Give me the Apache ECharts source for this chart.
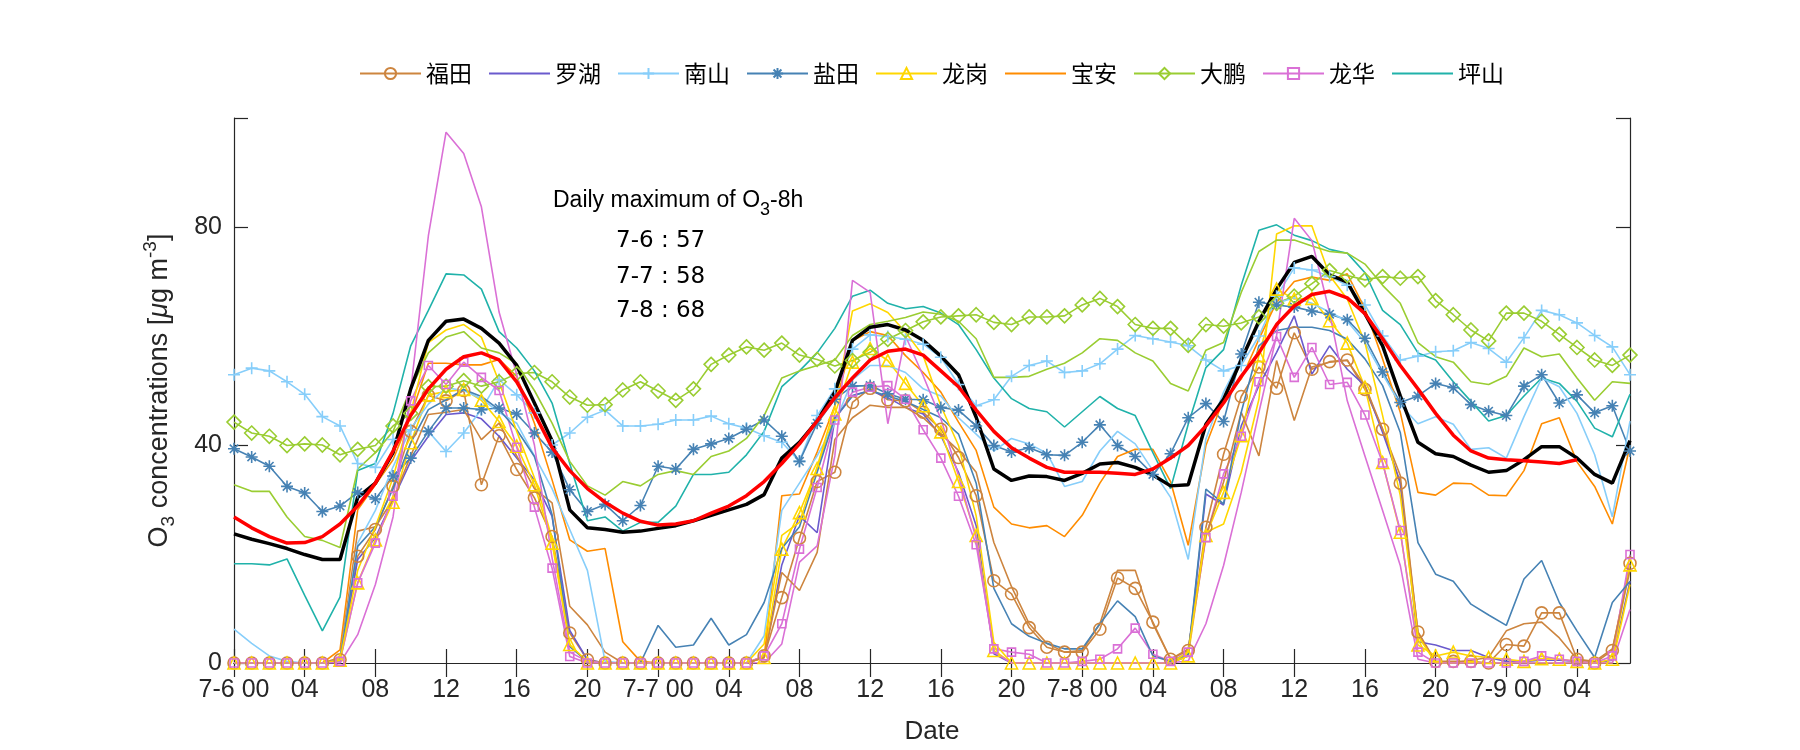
<!DOCTYPE html>
<html><head><meta charset="utf-8">
<script src="https://cdn.jsdelivr.net/npm/echarts@6/dist/echarts.min.js"></script>
<style>html,body{margin:0;padding:0;background:#fff}#c{width:1800px;height:750px}</style>
</head><body><div id="c"></div>
<script>
// x categories (hourly), 7-6 00 .. 7-9 07
const hourLabels = [
'7-6 00','01','02','03','04','05','06','07','08','09','10','11','12','13','14','15','16','17','18','19','20','21','22','23',
'7-7 00','01','02','03','04','05','06','07','08','09','10','11','12','13','14','15','16','17','18','19','20','21','22','23',
'7-8 00','01','02','03','04','05','06','07','08','09','10','11','12','13','14','15','16','17','18','19','20','21','22','23',
'7-9 00','01','02','03','04','05','06','07'];

const futian = [0,0,0,0,0,0,0.6,19.6,24.5,32.4,42.5,49.1,48.1,50,32.7,41.7,35.5,30.3,23.2,5.5,0.6,0,0,0,0,0,0,0,0,0,1.3,12,22.9,33.3,35,47.8,50.4,48.3,48.1,46,42.9,37.7,30.7,15.1,12.7,6.5,2.9,2,2,6.2,15.6,13.7,7.5,0.7,2.3,24.9,38.3,48.9,54.3,50.4,60.6,53.9,55.3,55.6,50.2,42.9,33,5.7,0.3,0.3,0.3,0,3.4,3.1,9.2,9.2,0.7,0,2.3,18.3];
const futian2 = [0,0,0,0,0,0,1,24.2,25,30,38,45.6,46,46.5,41,44,38,32,29.4,10.4,7,2,0,0,0,0,0,0,0,0,1,16.6,13.3,20.3,41,45,47.3,46.9,46.9,45,42,39,35,22.1,14,7.2,3.6,2,2.3,7.2,17,17,7.2,0.7,2.6,23.4,33.2,46,38,55.5,44.5,54.3,55.2,55.5,50.9,42.9,34.4,5.6,0,0,0.5,1,5.9,7.2,7.5,4.6,0.7,0.3,2.6,17];
const luohu = [0,0,0,0,0,0,0.5,19,23,30,37,41.6,45.6,45.9,44.8,41.6,37.6,33.6,26.9,6,0.6,0,0,0,0,0,0,0,0,0,1,18,27,23.9,44.8,49.1,50,48.7,46.9,45.7,41.7,35,25.2,1.7,0,0,0,0,0,0,0,0,0,0,1.3,31,29,43.5,50.9,57,63.7,53,58.2,53.9,50.9,42.3,33.1,3.9,3.3,2.3,2.3,1,0.3,0.3,0.5,0.5,0.3,0,0.5,15];
const nanshan = [52.9,54.1,53.6,51.6,49.3,45.2,43.5,36.6,35.9,41,42.8,42.5,38.8,42.2,46.5,52,49.2,45.9,40,42.2,45.1,46.4,43.5,43.5,43.8,44.6,44.6,45.3,43.9,43.1,41.7,40.5,37,45.4,50.3,57.6,60.2,59.9,59.4,58.5,56.1,51.1,47.2,48.3,52.6,54.6,55.4,53.3,53.6,54.9,57.6,60.1,59.5,58.9,58.2,55.6,53.6,54.6,60,67.3,72.5,72.1,70.9,69.3,65.7,60,55.6,56.3,57.1,57.3,58.8,57.7,55.2,59.7,64.7,63.9,62.4,60.1,58,52.9];
const nanshan2 = [6.2,3.6,1.3,0.3,0,0,0.5,22,28,36,43,47.5,50.5,50,48.5,46,44,38,32,24.5,17,0.3,0,0,0,0,0,0,0,0,5,28,33,38,44,52,54.6,54.6,53.3,50.3,49,45,42,38.9,41.2,40.2,38.5,32.4,33.3,38.9,42.5,40.2,35.3,30.4,19,41.1,49.7,56,62,66,67,66,64.4,62.7,58.8,53,47.4,43.9,45.2,43.8,39.2,39.5,37.6,45.2,52.3,50.7,45.8,38.2,26.8,44.4];
const yantian = [39.3,37.8,36.1,32.4,31.2,27.8,28.8,31.3,30.1,34.3,37.6,42.5,46.8,46.8,46.5,46.8,45.7,42.2,38.7,31.8,27.8,29.1,26.1,28.9,36.1,35.6,39.2,40.2,41.2,42.9,44.6,41.6,37,44,48.4,50.8,50.9,49.4,48.4,48.3,46.9,46.4,43.5,39.9,38.7,39.5,38.2,38.1,40.5,43.7,39.9,37.9,34.6,38.4,45,47.6,44.3,56.7,66.2,65.7,65.3,64.6,64,63,59.6,53.4,47.8,49,51.3,50.5,47.4,46.2,45.4,50.8,52.9,47.7,49.2,45.9,47.2,38.9];
const yantian2 = [0,0,0,0,0,0,0.5,21.4,25,32,40.4,46.5,48.3,50.2,48.9,46.5,42.8,37.9,27.2,3,0.3,0,0,0,6.9,2.9,3.3,8.2,3.3,5.2,11.1,21,25,35,45,49,50,49,48,46.5,45,42,33,13.7,7.2,4.9,3.6,2.6,2.6,7.2,11.4,8.5,1.3,0.3,1.6,31.9,29.2,46,58.2,61,61.6,61.6,61,59.4,55.8,50.9,42.3,22.1,16.3,15,10.8,8.8,6.9,15.4,18.8,11.1,5.9,1,11.1,15];
const longgang = [0,0,0,0,0,0,0.5,14.7,22.6,29.5,40.4,49.2,49.8,50.2,48.2,44.3,39.8,32.7,22,3.4,0,0,0,0,0,0,0,0,0,0,1,20.9,27.6,35.7,45.7,55.2,57.7,55.5,51.3,47.2,42.4,33.3,23.4,2.3,0,0,0,0,0,0,0,0,0,0,1.3,23.4,31.3,41.7,56.4,68.6,66.8,66.9,62.8,58.7,50.6,36.8,24,3.3,1.3,2,1.3,1,0.7,0.3,0.8,0.7,0.3,0,0.7,18];
const longgang2 = [0,0,0,0,0,0,0.5,17,25,34,45.9,58.8,61.1,62.1,59.8,51.6,42.5,34,22.9,3.3,0.3,0,0,0,0,0,0,0,0,0,3.5,23.4,25.8,36,47,64.6,65.9,64.3,60.7,56.4,47.2,39.9,27,3.8,0,0,0,0,0,0,0,0,0,0,2,24,25.5,35,48.4,78.7,80.2,80.2,71.1,66.8,58.8,45.4,30.7,5,0,0,0,0,0,0,0,0,0,0,0,14.4];
const baoan = [0,0,0,0,0,0,2.4,28.1,32.7,37.3,45.3,55,55,54.7,54.7,55.7,52.6,44,33.6,22.6,20.5,21,3.9,0.3,0,0,0,0,0,0,1,30.7,31,38.7,47.2,59.1,60.8,60.1,56.4,53.3,49.7,44.2,39,28.6,25.5,24.8,25.2,23.2,27.1,33,37.9,39.2,39.2,33.3,21.6,39.9,48.4,52.1,59.4,66.2,70,70.8,70.2,71.4,65,55.8,46,31.3,30.8,33,32.9,30.8,30.7,35.3,43.9,45,36.9,32.4,25.5,39.9];
const dapeng = [44.2,42.2,41.6,39.9,40.2,40,38.2,39.2,39.9,43.5,45.8,50.7,50.8,51.8,50.8,51.6,53.1,53.3,51.6,48.8,47.3,47.4,50.1,51.6,49.9,48.2,50.3,54.8,56.5,58,57.4,58.7,56.5,55.7,54.5,55.5,57,59.4,61,62.6,63.5,63.7,63.9,62.5,62.1,63.5,63.5,63.7,65.7,66.9,65.4,62.1,61.4,61.4,58.3,62.1,61.8,62.4,63.5,66,67.3,69.6,72,71.1,70.3,70.9,70.6,70.9,66.5,63.9,61.1,59.1,64.2,64.2,62.7,60.3,57.9,55.6,54.6,56.5];
const dapeng2 = [32.7,31.5,31.5,26.8,23.2,22.5,21.2,35.6,38.6,42.5,50.3,56.9,59.8,60.8,57.8,56.9,54.9,50,44,37,32.5,30.8,33.3,32.5,34.6,35.3,34.6,37.9,38.9,41.2,45.4,52.3,53.6,54.6,55.6,60.1,62.1,62.7,63.4,64.4,64,62.7,59.5,52.4,52.4,52.6,53.9,55,56.9,59.5,59.2,56.9,55.4,51.3,49.9,57.4,58.8,68,75.5,77.6,77.6,76.5,75.5,75.2,73.2,69.3,66,58.8,56.2,55.2,51.6,51.1,52.6,57.8,56.2,56.7,52.3,48.2,51.6,51.3];
const longhua = [0,0,0,0,0,0,0.3,14.7,22,30.6,48.1,54.6,51.1,55.2,52.4,50,39.6,28.6,17.4,1.2,0,0,0,0,0,0,0,0,0,0,1.3,7.2,20.9,32.2,44.6,49.7,50.6,50.9,48.4,42.8,37.6,30.6,21.7,2.6,2,1.6,0,0,0.3,0.7,2.6,6.4,1.6,0.3,2,23,34.7,41.6,51.6,59.9,52.4,57.9,51.1,51.5,45.5,36.7,24.3,2,0,0,0,0,0,0.3,1.3,0.7,0.3,0,1.3,19.9];
const longhua2 = [0,0,0,0,0,0,0,5.2,14.4,26.8,50,78.4,97.4,93.5,83.7,64.4,52.9,40,19.3,2,0.3,0,0,0,0,0,0,0,0,0,0,3.5,18.5,21.5,38,70.2,68,43.9,60,52.7,44.8,34.4,22.8,2,0,0,0,0,0,0,0,0,0,0,0.4,7.2,17.9,31.3,46,60.1,81.6,77.5,64.3,48.1,38,28,17.9,0.7,0,0,0,0,0,0,0,0,0,0,0,9.8];
const pingshan = [18.2,18.2,18,19.1,12.4,5.9,12.1,35.3,36.6,45.8,58.2,64.7,71.4,71.2,68.6,60.8,57.8,53.6,47.7,36.6,26.1,26.8,24.2,25.8,25.8,28.8,34.6,34.6,35,38.2,42.5,50.7,53.6,56.9,61.4,67.3,68.4,66,65,65.4,64.2,62.1,57.5,52.3,48.5,46.7,46.1,43.3,46.1,48.9,46.7,45.4,38.6,32,43.8,54.2,57.5,69.3,79.4,80.4,78.5,77.5,75.9,75.2,71.6,64.7,62.1,56.9,55.6,51.6,48,44.4,45.4,49,52.3,51.3,48,43.1,41.5,49.3];
const meanAll = [23.7,22.7,21.9,21,19.9,19,19,30.4,33,38.6,50.3,59.2,62.7,63.1,61.4,58.7,54.6,47.7,40.8,28.1,24.8,24.5,24,24.2,24.7,25.2,26.1,27.1,28.1,29.1,30.9,37.6,40.5,44.4,49.7,59.2,61.6,62.1,61.1,59.2,56.3,52.9,45.1,35.6,33.5,34.3,34.2,33.5,34.8,36.5,36.8,35.9,34.5,32.5,32.7,43.8,48.4,55.6,62.7,68.6,73.5,74.6,71.2,69.9,64.1,58.2,49,40.5,38.4,37.9,36.3,35,35.3,37.3,39.7,39.7,37.6,34.6,33,40.8];
const smoothMean = [26.8,24.8,23.2,22,22.1,23.2,25.5,28.8,33,38.9,45.4,50.3,53.9,56.2,56.9,55.6,51.6,45.8,39.5,35.3,32,29.5,27.5,26,25.3,25.5,26.1,27.5,28.8,30.7,33.3,36.6,40.2,44.4,48.7,52.3,55.6,57.2,57.6,56.5,53.6,50.7,46.4,42.5,39.5,37.6,35.9,35,35,35,34.8,34.6,35.6,37.6,39.9,43.5,47.7,52.6,56.9,62.1,65.5,67.6,68.2,67,64.1,59.5,54.6,50.3,45.8,41.8,38.9,37.6,37.3,37.1,36.9,36.6,37.3];

const annoTitle = 'Daily maximum of O{s|3}-8h';
const annoLines = ['7-6 : 57', '7-7 : 58', '7-8 : 68'];
const legendNames = ['福田','罗湖','南山','盐田','龙岗','宝安','大鹏','龙华','坪山'];

const FONT = "'Liberation Sans', Arial, sans-serif";
const AX = '#262626';
const plusPath = 'path://M5,0L5,10M0,5L10,5';
const starPath = 'path://M5,0L5,10M0,5L10,5M1.5,1.5L8.5,8.5M1.5,8.5L8.5,1.5';

function mk(name, vals, color, symbol, size, extra) {
  return Object.assign({
    name: name, type: 'line', data: vals,
    symbol: symbol || 'circle', symbolSize: symbol ? size : 0, showSymbol: !!symbol, showAllSymbol: true,
    symbolKeepAspect: true,
    lineStyle: {color: color, width: 1.6},
    itemStyle: symbol ? {color: 'rgba(255,255,255,0)', borderColor: color, borderWidth: 1.6}
                      : {color: 'rgba(255,255,255,0)', borderColor: 'rgba(255,255,255,0)', borderWidth: 0},
    emphasis: {disabled: true}, silent: true, animation: false
  }, extra || {});
}

const C = {futian:'#CD853F', luohu:'#6A5ACD', nanshan:'#87CEFA', yantian:'#4682B4', longgang:'#FFD700',
  baoan:'#FF8C00', dapeng:'#9ACD32', longhua:'#DA70D6', pingshan:'#20B2AA'};

const series = [
  mk('福田', futian, C.futian, 'circle', 12),
  mk('罗湖', luohu, C.luohu),
  mk('南山', nanshan, C.nanshan, plusPath, 12),
  mk('盐田', yantian, C.yantian, starPath, 12),
  mk('龙岗', longgang, C.longgang, 'triangle', 12),
  mk('宝安', baoan, C.baoan),
  mk('大鹏', dapeng, C.dapeng, 'diamond', 14),
  mk('龙华', longhua, C.longhua, 'rect', 8),
  mk('坪山', pingshan, C.pingshan),
  mk('福田', futian2, C.futian),
  mk('南山', nanshan2, C.nanshan),
  mk('盐田', yantian2, C.yantian),
  mk('龙岗', longgang2, C.longgang),
  mk('大鹏', dapeng2, C.dapeng),
  mk('龙华', longhua2, C.longhua),
  mk('平均', meanAll, '#000000', null, 0, {lineStyle:{color:'#000', width:3.5}, z: 3}),
  mk('平滑', smoothMean, '#FF0000', null, 0, {lineStyle:{color:'#FF0000', width:3.5}, z: 4})
];

const catAxisBase = {
  type: 'category', data: hourLabels, boundaryGap: false,
  axisLine: {show: true, lineStyle: {color: AX, width: 1.2}},
  axisTick: {show: true, inside: true, length: 14, interval: 3, lineStyle: {color: AX, width: 1.2}},
  splitLine: {show: false}
};
const valAxisBase = {
  type: 'value', min: 0, max: 100, interval: 40,
  axisLine: {show: true, lineStyle: {color: AX, width: 1.2}},
  axisTick: {show: true, inside: true, length: 14, lineStyle: {color: AX, width: 1.2}},
  splitLine: {show: false}
};

const chart = echarts.init(document.getElementById('c'), null, {renderer: 'canvas'});
chart.setOption({
  animation: false,
  backgroundColor: '#fff',
  grid: {left: 234, right: 170, top: 118, bottom: 86, containLabel: false},
  legend: {
    data: legendNames, left: 354, top: 57, itemWidth: 61, itemHeight: 14, itemGap: 16,
    textStyle: {fontSize: 23, fontFamily: "'Noto Sans CJK SC', sans-serif", color: '#000'},
    selectedMode: false
  },
  xAxis: [
    Object.assign({}, catAxisBase, {
      position: 'bottom', name: 'Date', nameLocation: 'middle', nameGap: 56,
      nameTextStyle: {fontSize: 26, fontFamily: FONT, color: AX},
      axisLabel: {show: true, interval: 3, margin: 15, fontSize: 25, fontFamily: FONT, color: AX}
    }),
    Object.assign({}, catAxisBase, {position: 'top', axisLabel: {show: false}})
  ],
  yAxis: [
    Object.assign({}, valAxisBase, {
      position: 'left', name: 'O{sub|3} concentrations [{it|μ}g m{sup|-3}]', nameLocation: 'middle', nameGap: 56,
      nameTextStyle: {fontSize: 27, fontFamily: FONT, color: AX,
        rich: {
          sub: {fontSize: 19, fontFamily: FONT, color: AX, verticalAlign: 'bottom', padding: [18, 0, 0, 0]},
          sup: {fontSize: 19, fontFamily: FONT, color: AX, verticalAlign: 'top', padding: [0, 0, 11, 0]},
          it: {fontSize: 27, fontFamily: FONT, color: AX, fontStyle: 'italic'}
        }},
      axisLabel: {show: true, margin: 12, fontSize: 25, fontFamily: FONT, color: AX,
        formatter: function (v) { return v === 100 ? '' : String(v); }}
    }),
    Object.assign({}, valAxisBase, {position: 'right', axisLabel: {show: false}})
  ],
  graphic: [
    {type: 'text', x: 553, y: 182, silent: true, style: {
      text: annoTitle, fontSize: 23, fontFamily: FONT, fill: '#000',
      rich: {s: {fontSize: 18, fontFamily: FONT, fill: '#000', verticalAlign: 'bottom', padding: [19, 0, 0, 0]}}
    }},
    {type: 'text', x: 616, y: 241, silent: true, style: {text: annoLines[0], fontSize: 23, fontFamily: "'DejaVu Sans', sans-serif", fill: '#000', verticalAlign: 'middle'}},
    {type: 'text', x: 616, y: 277, silent: true, style: {text: annoLines[1], fontSize: 23, fontFamily: "'DejaVu Sans', sans-serif", fill: '#000', verticalAlign: 'middle'}},
    {type: 'text', x: 616, y: 311, silent: true, style: {text: annoLines[2], fontSize: 23, fontFamily: "'DejaVu Sans', sans-serif", fill: '#000', verticalAlign: 'middle'}}
  ],
  series: series
});
</script>
</body></html>
